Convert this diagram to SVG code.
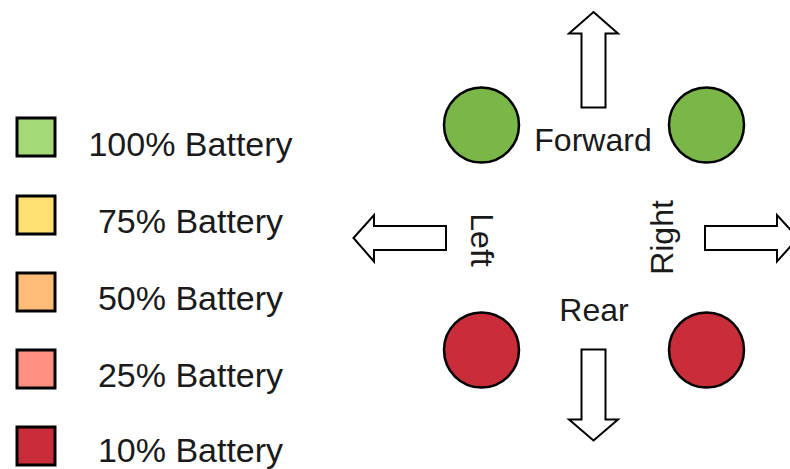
<svg xmlns="http://www.w3.org/2000/svg" width="790" height="469" viewBox="0 0 790 469">
  <style>
    .lbl { font-family: "Liberation Sans", Arial, sans-serif; fill: #1a1a1a; }
    .key { font-size: 34px; text-anchor: middle; }
    .dir { font-size: 32px; text-anchor: middle; }
    .swatch { stroke: #000; stroke-width: 3; }
    .wheel { stroke: #000; stroke-width: 2.5; }
    .arrow { fill: #fff; stroke: #000; stroke-width: 2; stroke-linejoin: miter; }
  </style>
  <rect width="790" height="469" fill="#fff"/>

  <!-- Legend -->
  <g id="legend-100">
    <rect class="swatch" x="17" y="118" width="38" height="38" fill="#a3d977"/>
    <text class="lbl key" x="190.5" y="156">100% Battery</text>
  </g>
  <g id="legend-75">
    <rect class="swatch" x="17" y="196" width="38" height="38" fill="#ffdf71"/>
    <text class="lbl key" x="190.5" y="233">75% Battery</text>
  </g>
  <g id="legend-50">
    <rect class="swatch" x="17" y="273" width="38" height="38" fill="#ffbc79"/>
    <text class="lbl key" x="190.5" y="310">50% Battery</text>
  </g>
  <g id="legend-25">
    <rect class="swatch" x="17" y="350" width="38" height="38" fill="#ff8f80"/>
    <text class="lbl key" x="190.5" y="387">25% Battery</text>
  </g>
  <g id="legend-10">
    <rect class="swatch" x="17" y="427" width="38" height="38" fill="#c92d39"/>
    <text class="lbl key" x="190.5" y="461.5">10% Battery</text>
  </g>

  <!-- Wheels -->
  <g id="wheel-front-left"><circle class="wheel" cx="481.5" cy="125" r="37.5" fill="#7ab648"/></g>
  <g id="wheel-front-right"><circle class="wheel" cx="706.5" cy="125" r="37.5" fill="#7ab648"/></g>
  <g id="wheel-rear-left"><circle class="wheel" cx="481.5" cy="350" r="37.5" fill="#c92d39"/></g>
  <g id="wheel-rear-right"><circle class="wheel" cx="706.5" cy="350" r="37.5" fill="#c92d39"/></g>

  <!-- Direction labels -->
  <g id="label-forward"><text class="lbl dir" x="593" y="150.5">Forward</text></g>
  <g id="label-rear"><text class="lbl dir" x="594" y="321">Rear</text></g>
  <g id="label-left"><text class="lbl dir" transform="translate(471,240) rotate(90)">Left</text></g>
  <g id="label-right"><text class="lbl dir" transform="translate(673,237.5) rotate(-90)">Right</text></g>

  <!-- Direction arrows -->
  <g id="arrows">
    <polygon class="arrow" points="593.5,12 618,33.5 605.5,33.5 605.5,107.5 581.5,107.5 581.5,33.5 569,33.5"/>
    <polygon class="arrow" points="593.5,440.5 618,419.5 605.5,419.5 605.5,349.5 581.5,349.5 581.5,419.5 569,419.5"/>
    <polygon class="arrow" points="353.5,238 374,215 374,226 446,226 446,250 374,250 374,261.5"/>
    <polygon class="arrow" points="798,238 777,215 777,226 705,226 705,250 777,250 777,261.5"/>
  </g>
</svg>
